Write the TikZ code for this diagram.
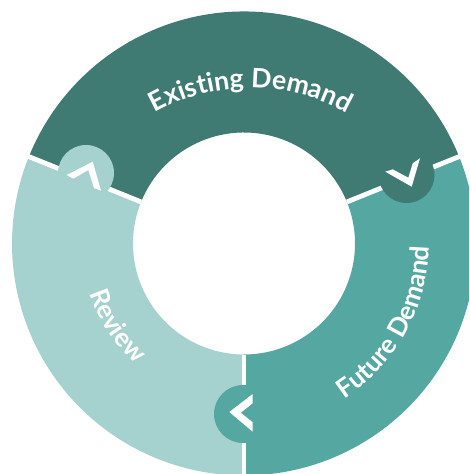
\documentclass[tikz,border=0pt]{standalone}
\usepackage{fontspec}
\setmainfont{Lato}
\usepackage{xcolor}
\usetikzlibrary{decorations.text}
\definecolor{darkteal}{HTML}{3F7A73}
\definecolor{midteal}{HTML}{55A7A2}
\definecolor{lightteal}{HTML}{A5D2CF}
\tikzstyle{sep}= [white, line width=4.8pt]
\tikzstyle{lab}= [decorate, decoration={text along path, text align=center, text color=white}]
\newcommand{\ringsector}[3]{%
	\fill[#1] (c) ++(#2:232) arc (#2:#3:232) -- ++(#3:-121) arc (#3:#2:111) -- cycle;}
\begin{document}
\begin{tikzpicture}[x=1pt,y=1pt]
	\useasboundingbox (0,0) rectangle (469,-474);
	\coordinate (c) at (244,-243.5);
	\begin{scope}
		\clip (0,0) rectangle (469,-474);
		\ringsector{darkteal}{22}{158}
		\ringsector{lightteal}{158}{270}
		\ringsector{midteal}{270}{382}

		\draw[sep] (c) ++(22:111) -- ++(22:128);
		\draw[sep] (c) ++(158:111) -- ++(158:128);
		\draw[sep] (c) ++(270:111) -- ++(270:128);

		\fill[lightteal] (86,-173) circle (28);
		\fill[darkteal] (406.5,-175) circle (28);
		\fill[midteal] (243,-414) circle (29);

		\fill[white] (66.7,-175) -- (92.7,-161.7) -- (101,-190.7) -- (94,-188) -- (88.3,-170) -- (73.3,-178.7) -- cycle;
		\fill[white] (385.3,-171.7) -- (392.7,-169.3) -- (408.3,-177.7) -- (412.7,-163.3) -- (420,-158.3) -- (411.7,-186.7) -- cycle;
		\fill[white] (229.3,-412) -- (252.7,-394) -- (252.7,-403.3) -- (240.7,-412.7) -- (252.7,-422.3) -- (252.7,-431.7) -- cycle;

		\path[lab, decoration={text={|\fontsize{26.7}{26.7}\selectfont\bfseries|Existing Demand}}] (251,-285) ++(127:197) arc (127:53:197);
		\path[lab, decoration={text={|\fontsize{26}{26}\selectfont\bfseries|Future Demand}}] (c) ++(-62:185) arc (-62:4:185);
		\path[lab, decoration={text={|\fontsize{26}{26}\selectfont\bfseries|Review}}] (c) ++(193:162) arc (193:233:162);
	\end{scope}
\end{tikzpicture}
\end{document}
